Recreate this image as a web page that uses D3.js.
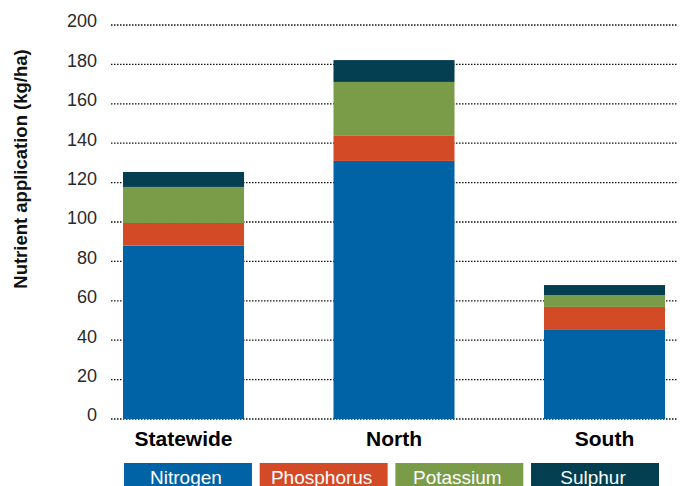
<!DOCTYPE html>
<html>
<head>
<meta charset="utf-8">
<script src="https://cdn.jsdelivr.net/npm/d3@7"></script>
<style>
  html, body { margin: 0; padding: 0; background: #fff; }
  svg { display: block; font-family: "Liberation Sans", Arial, Helvetica, sans-serif; }
</style>
</head>
<body>
<svg id="chart" width="683" height="486"></svg>
<script>
// Nutrient application by region, stacked by nutrient (kg/ha)
const regions = ["Statewide", "North", "South"];
const nutrients = ["Nitrogen", "Phosphorus", "Potassium", "Sulphur"];
const nitrogen   = [88.0, 131.0, 45.2];
const phosphorus = [11.5, 13.0, 11.7];
const potassium  = [18.3, 27.1, 6.0];
const sulphur    = [7.6, 11.1, 5.1];
const yTicks = [0, 20, 40, 60, 80, 100, 120, 140, 160, 180, 200];
const colors = ["#0063a6", "#d34a26", "#7a9c48", "#033f50"];

const rows = regions.map((r, i) => ({
  region: r,
  Nitrogen: nitrogen[i],
  Phosphorus: phosphorus[i],
  Potassium: potassium[i],
  Sulphur: sulphur[i]
}));

const svg = d3.select("#chart");

const x = d3.scaleBand()
  .domain(regions)
  .range([111, 677])
  .paddingInner(0.425)
  .paddingOuter(0.057);

const y = d3.scaleLinear().domain([0, 200]).range([419, 25]);

const color = d3.scaleOrdinal().domain(nutrients).range(colors);

// dotted gridlines
svg.append("g")
  .selectAll("line")
  .data(yTicks)
  .join("line")
  .attr("x1", 111)
  .attr("x2", 677)
  .attr("y1", d => y(d))
  .attr("y2", d => y(d))
  .attr("stroke", "#111")
  .attr("stroke-width", 1.3)
  .attr("stroke-dasharray", "1.5,1.5");

// y axis labels
const yAxis = d3.axisLeft(y).tickValues(yTicks).tickSize(0).tickPadding(0);
const yg = svg.append("g").attr("transform", "translate(97,0)").call(yAxis);
yg.select(".domain").remove();
yg.selectAll("text")
  .attr("font-size", 18)
  .attr("font-family", "Liberation Sans, Arial, sans-serif")
  .attr("fill", "#2a2a2a")
  .attr("dy", "0.1em");

// y axis title
svg.append("text")
  .attr("transform", "translate(26.5,169) rotate(-90)")
  .attr("text-anchor", "middle")
  .attr("font-size", 18.5)
  .attr("font-weight", "bold")
  .attr("fill", "#111")
  .text("Nutrient application (kg/ha)");

// stacked bars
const series = d3.stack().keys(nutrients)(rows);
svg.append("g")
  .selectAll("g")
  .data(series)
  .join("g")
  .attr("fill", d => color(d.key))
  .selectAll("rect")
  .data(d => d)
  .join("rect")
  .attr("x", d => x(d.data.region))
  .attr("width", x.bandwidth())
  .attr("y", d => y(d[1]))
  .attr("height", d => y(d[0]) - y(d[1]));

// category labels
const xAxis = d3.axisBottom(x).tickSize(0).tickPadding(0);
const xg = svg.append("g").attr("transform", "translate(0,446)").call(xAxis);
xg.select(".domain").remove();
xg.selectAll("text")
  .attr("font-size", 21)
  .attr("font-weight", "bold")
  .attr("font-family", "Liberation Sans, Arial, sans-serif")
  .attr("fill", "#000")
  .attr("dy", 0);

// legend
const legendX = d3.scaleBand().domain(nutrients).range([124, 659]).paddingInner(0.057);
const lg = svg.append("g")
  .selectAll("g")
  .data(nutrients)
  .join("g")
  .attr("transform", d => `translate(${legendX(d)},463)`);
lg.append("rect")
  .attr("width", legendX.bandwidth())
  .attr("height", 30)
  .attr("fill", d => color(d));
lg.append("text")
  .attr("x", legendX.bandwidth() / 2 - 2)
  .attr("y", 20.5)
  .attr("text-anchor", "middle")
  .attr("font-size", 19)
  .attr("fill", "#fff")
  .text(d => d);
</script>
</body>
</html>
